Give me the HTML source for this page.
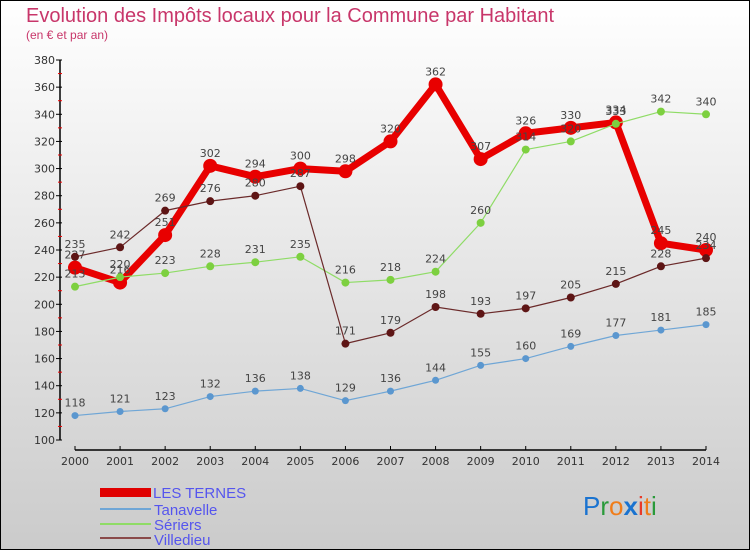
<!DOCTYPE html>
<html><head><meta charset="utf-8"><style>
body{margin:0;width:750px;height:550px;overflow:hidden}
svg{display:block;font-family:"DejaVu Sans","Liberation Sans",sans-serif}
</style></head><body>
<svg id="chart" width="750" height="550">
<defs><linearGradient id="bg" x1="0" y1="0" x2="0" y2="1"><stop offset="0" stop-color="#ffffff"/><stop offset="1" stop-color="#cbcbcb"/></linearGradient></defs>
<rect x="0.5" y="0.5" width="749" height="549" fill="url(#bg)" stroke="#000"/>
<text x="26" y="22" font-size="20" fill="#c8366a" style="font-family:'Liberation Sans',sans-serif">Evolution des Impôts locaux pour la Commune par Habitant</text>
<text x="26" y="39" font-size="12" fill="#c8366a" style="font-family:'Liberation Sans',sans-serif">(en € et par an)</text>
<g id="axes"></g><g id="series"></g>
<g font-size="15" fill="#5555ee" style="font-family:'Liberation Sans',sans-serif">
<rect x="100" y="488" width="51" height="9" fill="#e00000"/>
<text x="153" y="498">LES TERNES</text>
<rect x="100" y="508" width="51" height="2" fill="#6fa6d6"/>
<text x="154" y="515">Tanavelle</text>
<rect x="100" y="523" width="51" height="2" fill="#8fdc66"/>
<text x="154" y="530">Sériers</text>
<rect x="100" y="537" width="51" height="2" fill="#8a4a4a"/>
<text x="154" y="545">Villedieu</text>
</g>
<text x="583" y="515" font-size="26" style="font-family:'Liberation Sans',sans-serif"><tspan fill="#1a73d0">P</tspan><tspan fill="#2a9a3a">r</tspan><tspan fill="#f07d1a">o</tspan><tspan fill="#1a73d0" font-weight="bold">x</tspan><tspan fill="#e83a2a">i</tspan><tspan fill="#f07d1a">t</tspan><tspan fill="#2a9a3a">i</tspan></text>
</svg>
<script>
const years=["2000","2001","2002","2003","2004","2005","2006","2007","2008","2009","2010","2011","2012","2013","2014"];
const yTicks=[100,120,140,160,180,200,220,240,260,280,300,320,340,360,380];
const ternes=[227,216,251,302,294,300,298,320,362,307,326,330,334,245,240];
const tanavelle=[118,121,123,132,136,138,129,136,144,155,160,169,177,181,185];
const seriers=[213,220,223,228,231,235,216,218,224,260,314,320,333,342,340];
const villedieu=[235,242,269,276,280,287,171,179,198,193,197,205,215,228,234];
const NS="http://www.w3.org/2000/svg";
function X(i){return 75+i*(706-75)/(years.length-1);}
function Y(v){return 440-(v-100)*(380/280);}
function mk(tag,attrs,parent){const e=document.createElementNS(NS,tag);for(const k in attrs)e.setAttribute(k,attrs[k]);parent.appendChild(e);return e;}
const ax=document.getElementById('axes');
let l=mk('line',{x1:60,y1:Y(380),x2:60,y2:440,stroke:'#000','stroke-width':1.5},ax);


l=mk('line',{x1:75,y1:450,x2:706,y2:450,stroke:'#000','stroke-width':1.5},ax);


yTicks.forEach((v,k)=>{
 const t=mk('line',{x1:56,y1:Y(v),x2:62,y2:Y(v),stroke:'#000'},ax);
 
 
 if(k<yTicks.length-1){const m=mk('line',{x1:58,y1:Y(v+10),x2:62,y2:Y(v+10),stroke:'#e00'},ax);
 
 }
 const tx=mk('text',{x:55,y:Y(v)+4,'text-anchor':'end','font-size':11,fill:'#333'},ax);tx.textContent=v;
 
 
});
years.forEach((y,i)=>{
 const t=mk('line',{x1:X(i),y1:446,x2:X(i),y2:450,stroke:'#000'},ax);
 
 
 const tx=mk('text',{x:X(i),y:465,'text-anchor':'middle','font-size':11,fill:'#333'},ax);tx.textContent=y;
 
 
});
const sg=document.getElementById('series');
function draw(name,data,color,w,r,dot){
 const g=mk('g',{},sg);
 
 
 const p=mk('polyline',{points:data.map((v,i)=>X(i)+','+Y(v)).join(' '),fill:'none',stroke:color,'stroke-width':w,'stroke-linejoin':'round'},g);
 
 
 data.forEach((v,i)=>{
  const c=mk('circle',{cx:X(i),cy:Y(v),r:r,fill:dot},g);
  
  
  const t=mk('text',{x:X(i),y:Y(v)-9,'text-anchor':'middle','font-size':11,fill:'#444'},g);t.textContent=v;
  
  
 });
}
draw('les-ternes',ternes,'#e80000',7,7,'#e80000');
draw('tanavelle',tanavelle,'#6fa6d6',1.2,3.5,'#5b97cf');
draw('seriers',seriers,'#8fdc66',1.2,4,'#7dd040');
draw('villedieu',villedieu,'#6b2a2a',1.2,4,'#5e1515');
</script>
</body></html>
